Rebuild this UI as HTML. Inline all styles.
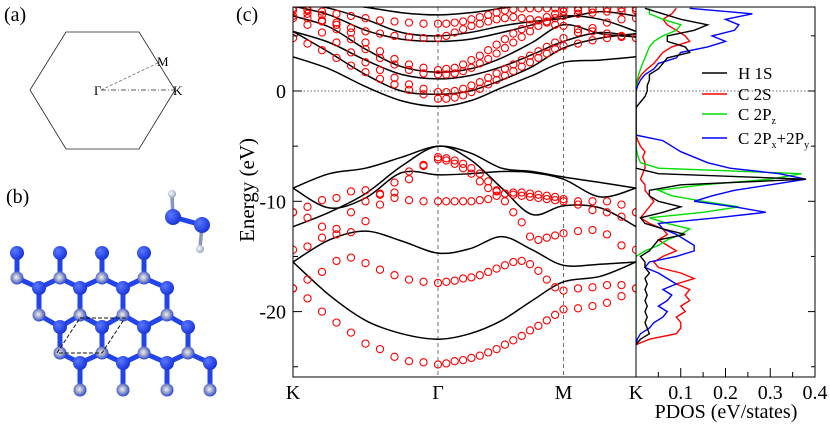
<!DOCTYPE html>
<html><head><meta charset="utf-8"><style>
html,body{margin:0;padding:0;background:#fff;}
svg{display:block;font-family:"Liberation Serif",serif;}
</style></head><body>
<svg id="fig" width="830" height="426" viewBox="0 0 830 426" xmlns="http://www.w3.org/2000/svg">
<defs>
<clipPath id="bandClip"><rect x="293" y="7" width="343" height="370"/></clipPath>
<clipPath id="dosClip"><rect x="636" y="7" width="179" height="370"/></clipPath>
<radialGradient id="blueAtom" cx="0.35" cy="0.35" r="0.7"><stop offset="0" stop-color="#5a78ff"/><stop offset="1" stop-color="#1530d8"/></radialGradient>
<radialGradient id="grayAtom" cx="0.45" cy="0.45" r="0.6"><stop offset="0" stop-color="#eef0f6"/><stop offset="0.4" stop-color="#a6aec8"/><stop offset="1" stop-color="#1a36d8"/></radialGradient>
<radialGradient id="hAtom" cx="0.4" cy="0.4" r="0.6"><stop offset="0" stop-color="#fff"/><stop offset="1" stop-color="#9aa6c6"/></radialGradient>
</defs>
<g>
<text x="4" y="21" font-size="20">(a)</text>
<polygon points="66,32 139,32 175,90 139,149 66,149 30,90" fill="none" stroke="#222" stroke-width="0.8"/>
<line x1="101" y1="90" x2="175" y2="90" stroke="#222" stroke-width="0.8" stroke-dasharray="5,2,1,2"/>
<line x1="101" y1="90" x2="160" y2="62" stroke="#555" stroke-width="0.7" stroke-dasharray="3,2"/>
<text x="94" y="95" font-size="13">Γ</text>
<text x="157" y="66" font-size="13">M</text>
<text x="173" y="95" font-size="13">K</text>
</g>
<g id="lattice">
<text x="6" y="203" font-size="20">(b)</text>
</g>
<g>
<text x="236" y="21" font-size="20">(c)</text>
</g>
<g id="bands"></g>
<g id="dos"></g>
</svg>
<script>
const kNodes = [0,0.25,0.5,0.75,1,1.22,1.44,1.65,1.866,2.12,2.366];
const blackB1 = [-15.5,-18.5,-20.8,-22.0,-22.5,-22.0,-20.8,-19.0,-17.3,-16.8,-15.5];
const blackB2 = [-15.5,-13.5,-12.7,-13.6,-14.7,-14.3,-13.2,-14.4,-15.8,-15.7,-15.5];
const blackB3 = [-12.3,-11.0,-9.3,-6.8,-5.0,-6.2,-8.8,-11.2,-10.4,-10.6,-12.3];
const blackB4 = [-8.8,-10.6,-9.7,-7.4,-7.6,-7.5,-7.3,-7.4,-8.0,-9.6,-8.8];
const blackB5 = [-8.8,-7.5,-7.0,-6.0,-5.0,-5.6,-7.0,-7.3,-7.8,-8.3,-8.8];
const blackC1 = [3.1,2.0,0.4,-0.9,-1.4,-0.9,0.3,1.4,2.6,2.8,3.1];
const blackC2 = [5.4,3.5,1.5,0.0,-0.3,0.0,1.0,2.2,3.9,4.8,5.2];
const blackC3 = [5.4,4.4,2.8,1.5,1.1,1.4,2.2,3.3,4.5,5.3,4.9];
const blackC4 = [6.8,5.8,3.8,2.2,1.7,2.0,3.0,4.4,6.0,5.2,4.9];
const blackC5 = [7.7,6.9,5.5,4.7,4.5,4.7,5.3,6.0,6.8,6.5,5.4];
const blackC6 = [8.0,7.5,6.5,5.3,5.0,5.3,5.9,6.3,6.6,7.2,6.8];
const blackC7 = [8.5,8.0,7.6,7.1,6.9,7.1,7.5,7.9,8.3,8.5,8.5];
const redR1 = [-17.9,-18.8,-20.0,-21.0,-21.9,-22.9,-23.4,-24.1,-24.5,-24.6,-24.8,-24.7,-24.5,-24.4,-24.2,-24.0,-23.7,-23.4,-23.0,-22.6,-22.2,-21.7,-21.3,-20.8,-20.3,-19.8,-19.7,-19.5,-19.2,-18.6,-17.9];
const redR2 = [-17.9,-17.1,-16.4,-15.4,-15.1,-15.6,-16.2,-16.7,-17.1,-17.3,-17.4,-17.3,-17.2,-17.0,-16.9,-16.7,-16.4,-16.1,-15.8,-15.5,-15.4,-15.7,-16.3,-17.1,-17.8,-18.1,-17.9,-17.8,-17.6,-17.6,-17.9];
const redR3 = [-14.4,-14.1,-13.3,-13.0,-12.8,-11.8,-10.3,-9.2,-8.0,-6.8,-6.0,-6.1,-6.3,-6.6,-7.0,-7.5,-8.2,-9.0,-10.0,-11.0,-11.9,-13.2,-13.5,-13.3,-13.1,-12.9,-12.7,-12.6,-13.0,-14.0,-14.4];
const redR4 = [-11.0,-10.5,-9.9,-9.7,-9.1,-9.0,-9.4,-9.7,-9.9,-10.0,-10.0,-10.0,-10.0,-10.0,-10.0,-9.9,-9.8,-9.5,-9.3,-9.2,-9.2,-9.3,-9.4,-9.5,-9.6,-9.8,-10.0,-10.0,-10.0,-10.3,-11.0];
const redR5 = [-11.0,-11.5,-12.3,-12.5,-11.0,-10.0,-9.3,-8.3,-7.3,-6.7,-6.2,-6.3,-6.6,-7.0,-7.5,-8.2,-8.8,-9.1,-9.3,-9.4,-9.5,-9.6,-9.7,-9.8,-9.9,-10.0,-10.3,-10.8,-11.0,-11.4,-11.0];
const redC1 = [4.8,4.3,3.7,3.0,2.3,1.7,1.1,0.6,0.1,-0.3,-0.7,-0.7,-0.6,-0.4,-0.1,0.2,0.6,1.0,1.4,1.8,2.2,2.6,3.0,3.4,3.8,4.1,4.3,4.6,4.8,4.9,4.8];
const redC2 = [6.6,6.0,5.3,4.4,3.5,2.6,1.9,1.2,0.6,0.2,-0.1,-0.1,0.0,0.2,0.5,0.8,1.2,1.6,2.0,2.4,2.8,3.2,3.6,4.0,4.4,4.8,5.3,5.7,6.2,6.5,6.6];
const redC3 = [7.3,7.0,6.4,5.6,4.7,3.8,3.0,2.4,1.9,1.6,1.5,1.5,1.6,1.8,2.1,2.5,2.9,3.4,3.9,4.4,4.9,5.4,5.9,6.3,6.6,6.8,7.0,7.1,7.2,7.2,7.3];
const redC4 = [7.5,7.3,6.9,6.2,5.3,4.4,3.6,2.9,2.4,2.1,1.9,2.0,2.1,2.4,2.8,3.2,3.7,4.2,4.7,5.2,5.6,6.0,6.4,6.7,7.0,7.2,7.3,7.4,7.5,7.5,7.5];
const redC5 = [6.8,6.6,6.3,6.0,5.7,5.4,5.2,5.0,4.9,4.8,4.8,5.0,5.3,5.6,5.9,6.1,6.3,6.5,6.6,6.7,6.6,6.5,6.4,6.2,6.0,5.9,5.6,5.4,5.2,5.0,4.8];
const redC6 = [7.5,7.4,7.2,7.0,6.8,6.6,6.4,6.3,6.2,6.1,6.1,6.1,6.2,6.3,6.5,6.7,6.9,7.1,7.3,7.4,7.5,7.5,7.5,7.5,7.5,7.5,7.5,7.5,7.5,7.5,7.5];
const kLabels = ["K","Γ","M","K"];
const kLabelPos = [0,1,1.866,2.366];
const eTicks = [0,-10,-20];
const eMinor = [5,-5,-15,-25];
const dosEStart = 7.5, dosEStep = 0.5;
const dosH1s = [0.02,0.06,0.10,0.16,0.13,0.07,0.07,0.11,0.12,0.07,0.06,0.05,0.03,0.03,0.025,0.025,0.02,0.01,0,0,0,0,0,0,0,0,0,0,0,0,0.05,0.38,0.10,0.03,0.03,0.05,0.10,0.06,0.01,0.02,0.06,0.11,0.05,0.04,0.03,0.01,0.02,0.02,0.03,0.02,0.025,0.02,0.025,0.02,0.025,0.02,0.025,0.02,0.025,0.03,0.01,0];
const dosC2s = [0.09,0.08,0.06,0.07,0.09,0.11,0.12,0.08,0.06,0.05,0.04,0.025,0.012,0.005,0.002,0,0,0,0,0,0,0,0,0,0.004,0.01,0.02,0.015,0.02,0.02,0.015,0.01,0.02,0.02,0.03,0.04,0.03,0.02,0.01,0.03,0.06,0.07,0.05,0.07,0.09,0.06,0.04,0.05,0.10,0.13,0.09,0.12,0.11,0.12,0.10,0.11,0.09,0.10,0.10,0.09,0.03,0];
const dosC2pz = [0.03,0.03,0.06,0.10,0.09,0.06,0.04,0.03,0.025,0.02,0.015,0.01,0.006,0.003,0.001,0,0,0,0,0,0,0,0,0,0,0,0.002,0.005,0.01,0.05,0.37,0.30,0.15,0.05,0.08,0.15,0.23,0.15,0.03,0.07,0.12,0.10,0.07,0.05,0.02,0,0,0,0,0,0,0,0,0,0,0,0,0,0,0,0,0];
const dosC2pxy = [0.12,0.26,0.20,0.23,0.22,0.17,0.20,0.16,0.10,0.09,0.05,0.04,0.02,0.01,0.004,0,0,0,0,0,0,0,0,0,0.06,0.08,0.10,0.13,0.16,0.21,0.32,0.38,0.30,0.22,0.17,0.13,0.22,0.29,0.18,0.05,0.06,0.09,0.11,0.13,0.13,0.09,0.03,0.02,0.05,0.07,0.09,0.06,0.08,0.07,0.05,0.07,0.06,0.04,0.03,0.01,0.003,0];
const dosTicks = [0.1,0.2,0.3,0.4];
const dosLegend = ["H 1S","C 2S","C 2P","C 2P"];

const NS = "http://www.w3.org/2000/svg";
function mk(tag, attrs, parent){ const el=document.createElementNS(NS,tag); for(const k in attrs) el.setAttribute(k,attrs[k]); parent.appendChild(el); return el; }
const X0=293, KMAX=2.366, XW=343;
function xk(k){ return X0 + k/KMAX*XW; }
function yE(e){ return 91 - 11.03*e; }
function xd(d){ return 636 + d*447.5; }
function smoothPath(pts){
  let d="M"+pts[0][0].toFixed(1)+","+pts[0][1].toFixed(1);
  for(let i=0;i<pts.length-1;i++){
    const p0=pts[Math.max(0,i-1)],p1=pts[i],p2=pts[i+1],p3=pts[Math.min(pts.length-1,i+2)];
    const c1=[p1[0]+(p2[0]-p0[0])/6,p1[1]+(p2[1]-p0[1])/6];
    const c2=[p2[0]-(p3[0]-p1[0])/6,p2[1]-(p3[1]-p1[1])/6];
    d+="C"+c1[0].toFixed(1)+","+c1[1].toFixed(1)+" "+c2[0].toFixed(1)+","+c2[1].toFixed(1)+" "+p2[0].toFixed(1)+","+p2[1].toFixed(1);
  }
  return d;
}
const bands=document.getElementById('bands');
let g;
g=mk('line',{x1:xk(1),y1:7,x2:xk(1),y2:377,stroke:"#333","stroke-width":0.7,"stroke-dasharray":"4,3"},bands);


g=mk('line',{x1:xk(1.866),y1:7,x2:xk(1.866),y2:377,stroke:"#333","stroke-width":0.7,"stroke-dasharray":"4,3"},bands);


g=mk('line',{x1:293,y1:yE(0),x2:815,y2:yE(0),stroke:"#333","stroke-width":0.8,"stroke-dasharray":"1.5,2"},bands);


const bandClipG=mk('g',{"clip-path":"url(#bandClip)"},bands);


const blackList=[blackB1,blackB2,blackB3,blackB4,blackB5,blackC1,blackC2,blackC3,blackC4,blackC5,blackC6,blackC7];
blackList.forEach((arr,i)=>{
  const pts=arr.map((e,j)=>[xk(kNodes[j]),yE(e)]);
  const p=mk('path',{d:smoothPath(pts),fill:"none",stroke:"#000","stroke-width":1.5},bandClipG);
  
  
});
const kGrid=[];
for(let i=0;i<=10;i++) kGrid.push(i*0.1);
for(let i=1;i<=15;i++) kGrid.push(1+0.866*i/15);
for(let i=1;i<=5;i++) kGrid.push(1.866+0.5*i/5);
const redList=[redR1,redR2,redR3,redR4,redR5,redC1,redC2,redC3,redC4,redC5,redC6];
redList.forEach((arr,i)=>{
  arr.forEach((e,j)=>{
    if(e>7.7) return;
    const c=mk('circle',{cx:xk(kGrid[j]).toFixed(1),cy:yE(e).toFixed(1),r:3.6,fill:"none",stroke:"#f00","stroke-width":1.1},bandClipG);
    
    
  });
});
g=mk('rect',{x:293,y:7,width:343,height:370,fill:"none",stroke:"#000","stroke-width":1},bands);


eTicks.forEach(t=>{
  const l=mk('line',{x1:293,y1:yE(t),x2:302,y2:yE(t),stroke:"#000","stroke-width":1},bands);
  
  
  const tx=mk('text',{x:286,y:yE(t)+7,"font-size":20,"text-anchor":"end"},bands);
  tx.textContent=String(t);
  
  
});
eMinor.forEach(t=>{
  const l=mk('line',{x1:293,y1:yE(t),x2:298,y2:yE(t),stroke:"#000","stroke-width":1},bands);
  
  
});
kLabels.forEach((s,i)=>{
  const tx=mk('text',{x:xk(kLabelPos[i]),y:399,"font-size":20,"text-anchor":"middle"},bands);
  tx.textContent=s;
  
  
});
g=mk('text',{x:0,y:0,"font-size":21,"text-anchor":"middle",transform:"translate(254,190) rotate(-90)"},bands);
g.textContent="Energy (eV)";



const dos=document.getElementById('dos');
const dosClipG=mk('g',{"clip-path":"url(#dosClip)"},dos);


const dosSeries=[[dosC2s,"#f00","pdos-c-2s"],[dosC2pz,"#0d0","pdos-c-2pz"],[dosC2pxy,"#00f","pdos-c-2pxy"],[dosH1s,"#000","pdos-h-1s"]];
dosSeries.forEach(s=>{
  const pts=s[0].map((d,j)=>xd(d).toFixed(1)+","+yE(dosEStart-j*dosEStep).toFixed(1)).join(" ");
  const pl=mk('polyline',{points:pts,fill:"none",stroke:s[1],"stroke-width":1.4},dosClipG);
  
  
});
g=mk('rect',{x:636,y:7,width:179,height:370,fill:"none",stroke:"#000","stroke-width":1},dos);


for(let i=1;i<8;i++){
  const l=mk('line',{x1:xd(i*0.05),y1:377,x2:xd(i*0.05),y2:(i%2?372:368),stroke:"#000","stroke-width":1},dos);
  
  
}
[5,0,-5,-10,-15,-20,-25].forEach(t=>{
  const l=mk('line',{x1:815,y1:yE(t),x2:(t%10===0?808:811),y2:yE(t),stroke:"#000","stroke-width":1},dos);
  
  
});
dosTicks.forEach(t=>{
  const tx=mk('text',{x:xd(t),y:399,"font-size":20,"text-anchor":"middle"},dos);
  tx.textContent=t.toFixed(1);
  
  
});
g=mk('text',{x:726,y:418,"font-size":20,"text-anchor":"middle"},dos);
g.textContent="PDOS (eV/states)";


const legColors=["#000","#f00","#0d0","#00f"];
const legY=[73,94,114,138];
const legSubs=["","","z","x"];
dosLegend.forEach((s,i)=>{
  const l=mk('line',{x1:702,y1:legY[i],x2:727,y2:legY[i],stroke:legColors[i],"stroke-width":1.4},dos);
  
  
  const tx=mk('text',{x:738,y:legY[i]+6,"font-size":17},dos);
  
  
  tx.appendChild(document.createTextNode(s));
  if(legSubs[i]){
    const sb=mk('tspan',{"font-size":10,dy:4},tx); sb.textContent=legSubs[i];
  }
  if(i===3){
    const a=mk('tspan',{dy:-4,"font-size":17},tx); a.textContent="+2P";
    const b=mk('tspan',{"font-size":10,dy:4},tx); b.textContent="y";
  }
});

const lat=document.getElementById('lattice');
const rowsX=[[17,60,102,144],[39,80,123,167],[60,102,144,188],[80,123,167,210]];
const rowY=[[253,278],[288,315],[327,353],[363,390]];
const bondG=mk('g',{stroke:"#2244e8","stroke-width":5,"stroke-linecap":"round"},lat);


const atoms=[];
rowsX.forEach((xs,r)=>{
  xs.forEach(x=>{
    mk('line',{x1:x,y1:rowY[r][0],x2:x,y2:rowY[r][1]},bondG);
    atoms.push([x,rowY[r][0],'b']); atoms.push([x,rowY[r][1],'g']);
    if(r<3){
      rowsX[r+1].forEach(x2=>{ if(Math.abs(x2-x)<26) mk('line',{x1:x,y1:rowY[r][1],x2:x2,y2:rowY[r+1][0]},bondG); });
    }
  });
});
atoms.forEach(a=>{
  const c=mk('circle',{cx:a[0],cy:a[1],r:(a[2]==='b'?7:6.5),fill:(a[2]==='b'?"url(#blueAtom)":"url(#grayAtom)")},lat);
  
  
});
const rh=mk('polygon',{points:"80,318 125,318 102,353 57,353",fill:"none",stroke:"#111","stroke-width":1,"stroke-dasharray":"4,2"},lat);


const mol=mk('g',{},lat);


mk('line',{x1:172,y1:195,x2:173,y2:217,stroke:"#8896c0","stroke-width":3.5},mol);
mk('line',{x1:202,y1:225,x2:200,y2:248,stroke:"#8896c0","stroke-width":3.5},mol);
mk('line',{x1:173,y1:217,x2:202,y2:225,stroke:"#2244e8","stroke-width":5},mol);
mk('circle',{cx:172,cy:194,r:4,fill:"url(#hAtom)"},mol);
mk('circle',{cx:200,cy:249,r:4,fill:"url(#hAtom)"},mol);
mk('circle',{cx:173,cy:217,r:8,fill:"url(#blueAtom)"},mol);
mk('circle',{cx:202,cy:225,r:8,fill:"url(#blueAtom)"},mol);
</script>
</body></html>
